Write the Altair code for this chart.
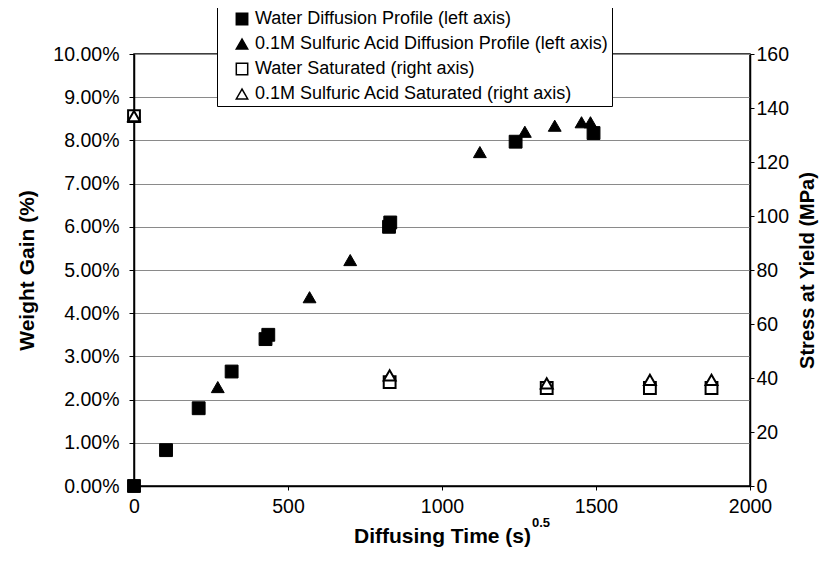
import altair as alt
import pandas as pd

# ---- data ----
series_names = [
    "Water Diffusion Profile (left axis)",
    "0.1M Sulfuric Acid Diffusion Profile (left axis)",
    "Water Saturated (right axis)",
    "0.1M Sulfuric Acid Saturated (right axis)",
]

water_t = [0, 104, 210, 317, 427, 436, 828, 832, 1239, 1492]
water_wg = [0.0, 0.0083, 0.0180, 0.0265, 0.0340, 0.0350, 0.0600, 0.0610, 0.0797, 0.0817]

acid_t = [0, 272, 570, 702, 1123, 1269, 1366, 1453, 1482]
acid_wg = [0.0, 0.0229, 0.0437, 0.0523, 0.0773, 0.0820, 0.0834, 0.0842, 0.0842]

sat_water_t = [0, 830, 1340, 1675, 1875]
sat_water_mpa = [137, 38.5, 36.3, 36.3, 36.3]

sat_acid_t = [0, 830, 1340, 1675, 1875]
sat_acid_mpa = [137, 41.0, 38.0, 39.3, 39.3]

x_ticks = [0, 500, 1000, 1500, 2000]
left_ticks = [i / 100 for i in range(0, 11)]
right_ticks = list(range(0, 161, 20))

# ---- tables ----
prof = pd.concat([
    pd.DataFrame({"t": water_t, "v": water_wg, "series": series_names[0]}),
    pd.DataFrame({"t": acid_t, "v": acid_wg, "series": series_names[1]}),
])
sat = pd.concat([
    pd.DataFrame({"t": sat_water_t, "v": sat_water_mpa, "series": series_names[2]}),
    pd.DataFrame({"t": sat_acid_t, "v": sat_acid_mpa, "series": series_names[3]}),
])

FONT = "Liberation Sans"

shape_scale = alt.Scale(domain=series_names,
                        range=["square", "triangle-up", "square", "triangle-up"])
fill_scale = alt.Scale(domain=series_names,
                       range=["black", "black", "white", "white"])
stroke_scale = alt.Scale(domain=series_names,
                         range=["black", "black", "black", "black"])
legend = alt.Legend(title=None)

x_enc = alt.X(
    "t:Q",
    scale=alt.Scale(domain=[0, 2000], nice=False),
    axis=alt.Axis(values=x_ticks, format="d", title="Diffusing Time (s)", grid=False,
                  labelFlush=False, titlePadding=10, labelPadding=7, tickSize=4),
)

left = alt.Chart(prof).mark_point(size=165, strokeWidth=1, opacity=1).encode(
    x=x_enc,
    y=alt.Y("v:Q", scale=alt.Scale(domain=[0, 0.10], nice=False),
            axis=alt.Axis(values=left_ticks, format=".2%", title="Weight Gain (%)",
                          grid=True, gridColor="#8a8a8a", gridWidth=1, labelFlush=False,
                          titlePadding=15, labelPadding=10, tickSize=5)),
    shape=alt.Shape("series:N", scale=shape_scale, legend=legend),
    fill=alt.Fill("series:N", scale=fill_scale, legend=legend),
    stroke=alt.Stroke("series:N", scale=stroke_scale, legend=legend),
)

right = alt.Chart(sat).mark_point(size=140, strokeWidth=2, opacity=1).encode(
    x=x_enc,
    y=alt.Y("v:Q", scale=alt.Scale(domain=[0, 160], nice=False),
            axis=alt.Axis(values=right_ticks, orient="right", title="Stress at Yield (MPa)",
                          grid=False, titleAngle=270, titlePadding=29, titleFontSize=20,
                          labelFlush=False, labelPadding=2, tickSize=4)),
    shape=alt.Shape("series:N", scale=shape_scale, legend=legend),
    fill=alt.Fill("series:N", scale=fill_scale, legend=legend),
    stroke=alt.Stroke("series:N", scale=stroke_scale, legend=legend),
)

sup = alt.Chart(pd.DataFrame({"s": ["0.5"]})).mark_text(
    font=FONT, fontSize=13, fontWeight="bold", align="left", baseline="middle"
).encode(x=alt.value(398), y=alt.value(469), text="s:N")

chart = alt.layer(left, right, sup).resolve_scale(y="independent").properties(
    width=616, height=432,
    autosize=alt.AutoSizeParams(type="none"),
    padding={"left": 126, "top": 46, "right": 72, "bottom": 70},
).configure_view(
    stroke="black", strokeWidth=1.5,
).configure_axis(
    labelFont=FONT, labelFontSize=19.5, labelColor="black",
    titleFont=FONT, titleFontSize=21, titleFontWeight="bold", titleColor="black",
    domainColor="black", domainWidth=1.5, tickColor="black", tickWidth=1,
).configure_legend(
    orient="none", legendX=83, legendY=-47,
    fillColor="white", strokeColor="black", strokeWidth=1,
    padding=3, symbolOffset=13, labelOffset=4, rowPadding=7,
    labelFont=FONT, labelFontSize=18, labelColor="black", labelLimit=600,
    symbolSize=130, symbolStrokeWidth=1.5,
)

chart.save("out.html", embed_options={"renderer": "svg", "actions": False})
